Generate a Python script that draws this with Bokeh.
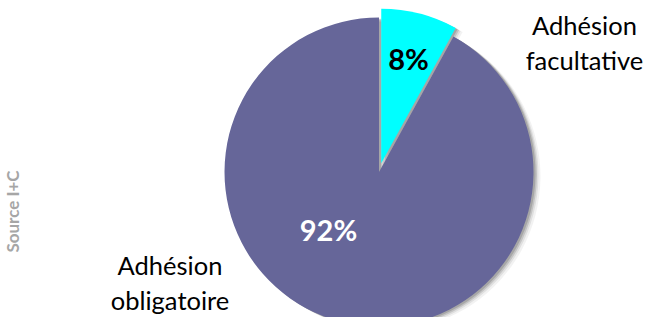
import math
from bokeh.plotting import figure
from bokeh.models import ColumnDataSource, Range1d
from bokeh.embed import file_html
from bokeh.resources import INLINE
from bokeh.core.properties import value

# ---- data ----
categories = ["Adhésion facultative", "Adhésion obligatoire"]
shares = [8, 92]
pct_labels = ["8%", "92%"]
slice_colors = ["#00FFFF", "#666699"]
pct_colors = ["black", "white"]
cat_lines = [["Adhésion", "facultative"], ["Adhésion", "obligatoire"]]
explode = [9, 0]
source_text = "Source I+C"

# ---- layout (pixels) ----
W, H = 646, 317
CX, CY, R = 378.5, 145.5, 154.5
FONT = "Lato"

p = figure(width=W, height=H, output_backend="svg", toolbar_location=None,
           x_range=Range1d(0, W), y_range=Range1d(0, H), min_border=0)
p.axis.visible = False
p.grid.visible = False
p.outline_line_color = None
p.background_fill_color = "white"
p.border_fill_color = "white"

total = float(sum(shares))
starts, ends, xs, ys, mids = [], [], [], [], []
cum = 0.0
for s, e in zip(shares, explode):
    a0 = math.pi / 2 - 2 * math.pi * cum / total
    cum += s
    a1 = math.pi / 2 - 2 * math.pi * cum / total
    mid = (a0 + a1) / 2
    starts.append(a0)
    ends.append(a1)
    mids.append(mid)
    xs.append(CX + e * math.cos(mid))
    ys.append(CY + e * math.sin(mid))

src = ColumnDataSource(dict(x=xs, y=ys, start=starts, end=ends, color=slice_colors,
                            cat=categories))

# soft shadow
for off, alpha in [(7, 0.05), (5, 0.08), (3.5, 0.12), (2, 0.15)]:
    sh = ColumnDataSource(dict(x=[x + off for x in xs], y=[y - off * 0.6 for y in ys],
                               start=starts, end=ends))
    p.wedge(x="x", y="y", radius=R, radius_units="screen", start_angle="start",
            end_angle="end", direction="clock", source=sh,
            fill_color="#000000", fill_alpha=alpha, line_color=None)

p.wedge(x="x", y="y", radius=R, radius_units="screen", start_angle="start",
        end_angle="end", direction="clock", source=src,
        fill_color="color", line_color=None)

# percentage labels (placed inside slices)
pct_pos = [(408, 259), (328, 88)]
p.text(x=[q[0] for q in pct_pos], y=[q[1] for q in pct_pos], text=pct_labels,
       text_color=pct_colors, text_font=value(FONT), text_font_style="bold",
       text_font_size="29px", text_align="center", text_baseline="alphabetic")

# category labels
cat_pos = [(584, 293, 35), (169.5, 53, 35)]
lx, ly, lt = [], [], []
for (x, y, dy), lines in zip(cat_pos, cat_lines):
    for k, t in enumerate(lines):
        lx.append(x)
        ly.append(y - k * dy)
        lt.append(t)
p.text(x=lx, y=ly, text=lt, text_color="black", text_font=value(FONT),
       text_font_size="25.5px", text_align="center", text_baseline="alphabetic")

# source
p.text(x=[12], y=[106], text=[source_text], angle=math.pi / 2, text_color="#A6A6A6",
       text_font=value(FONT), text_font_style="bold", text_font_size="17px",
       text_align="center", text_baseline="middle")

open("out.html", "w").write(file_html(p, INLINE))
